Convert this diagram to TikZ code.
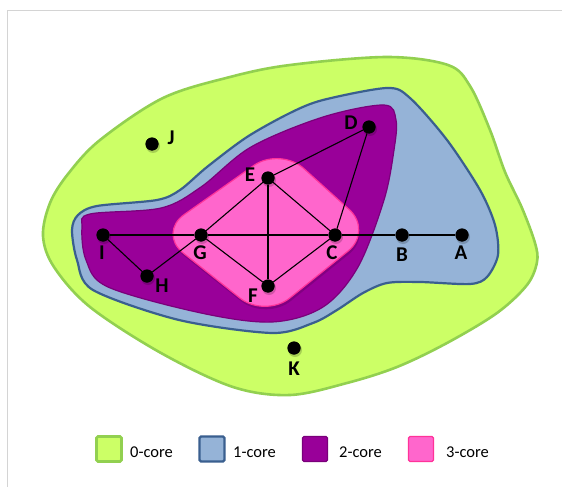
\documentclass[tikz,border=0pt]{standalone}
\usepackage{fontspec}
\setmainfont{Carlito}
\begin{document}
\begin{tikzpicture}[x=1pt,y=-1pt,
  dot/.style={circle,fill=black,minimum size=13pt,inner sep=0pt},
  shad/.style={circle,fill=black,fill opacity=0.18,minimum size=14pt,inner sep=0pt},
  lbl/.style={font=\fontsize{21}{21}\selectfont\bfseries,inner sep=0pt},
  edge/.style={draw=black,line width=1.1pt},
  legtxt/.style={font=\fontsize{16.5}{16.5}\selectfont,anchor=west,inner sep=0pt},
  legbox/.style={minimum size=25pt,inner sep=0pt,rounded corners=1.5pt}]
\definecolor{gfill}{HTML}{CCFF66}
\definecolor{gline}{HTML}{92D050}
\definecolor{bfill}{HTML}{95B3D7}
\definecolor{bline}{HTML}{3A5F8F}
\definecolor{pfill}{HTML}{990099}
\definecolor{pline}{HTML}{7A007A}
\definecolor{kfill}{HTML}{FF66CC}
\definecolor{kline}{HTML}{FF3399}
\definecolor{frame}{HTML}{D4D4D4}
\useasboundingbox (0,0) rectangle (562,487);
\fill[white] (0,0) rectangle (562,487);
\draw[frame,line width=1.6pt] (7.5,487) -- (7.5,10.5) -- (562,10.5);
% 0-core
\draw[gline,fill=gfill,line width=2.6pt] plot[smooth cycle,tension=0.55] coordinates {
 (387,57) (448,65) (470,86) (490,130) (505,172) (522,208) (535,243) (537,262) (527,285)
 (497,313) (447,343) (397,367) (347,383) (290,395) (233,387) (161,353) (90,307) (54,267)
 (43,236) (50,203) (68,174) (100,140) (163,98) (230,77) (290,65)};
% 1-core
\draw[bline,fill=bfill,line width=2.2pt] plot[smooth cycle,tension=0.5] coordinates {
 (387,88) (410,98) (447,140) (480,190) (495,225) (498,255) (487,277) (470,284) (420,282)
 (387,283) (363,293) (337,310) (313,323) (272,333) (179,320) (93,290) (77,260) (72,230)
 (78,215) (97,206) (157,200) (180,190) (207,167) (247,137) (290,113) (323,100)};
% 2-core
\draw[pline,fill=pfill,line width=1.2pt] plot[smooth cycle,tension=0.55] coordinates {
 (82,227) (90,214) (161,208) (201,187) (251,147) (323,117) (384,105) (396,120) (394,150)
 (384,200) (358,267) (323,307) (272,322) (201,313) (108,287) (86,260)};
% 3-core
\fill[black,opacity=0.15,rounded corners=32pt]
 (159,236) -- (281,150) -- (374,234) -- (266,321) -- cycle;
\draw[kline,fill=kfill,line width=1.2pt,rounded corners=32pt]
 (158,233) -- (280,147) -- (373,231) -- (265,318) -- cycle;
% nodes
\node[dot] (J) at (152,144) {};
\node[dot] (D) at (369,127) {};
\node[dot] (E) at (268,178) {};
\node[dot] (I) at (103,235) {};
\node[dot] (G) at (201,235) {};
\node[dot] (C) at (335,235) {};
\node[dot] (B) at (402,235) {};
\node[dot] (A) at (462,235) {};
\node[dot] (H) at (147,276) {};
\node[dot] (F) at (268,286) {};
\node[dot] (K) at (294,348) {};
% edges
\draw[edge] (I) -- (G);
\draw[edge] (G) -- (C);
\draw[edge] (C) -- (B);
\draw[edge] (B) -- (A);
\draw[edge] (I) -- (H);
\draw[edge] (H) -- (G);
\draw[edge] (G) -- (E);
\draw[edge] (G) -- (F);
\draw[edge] (E) -- (F);
\draw[edge] (E) -- (C);
\draw[edge] (F) -- (C);
\draw[edge] (E) -- (D);
\draw[edge] (D) -- (C);
\foreach \n in {J,D,E,I,G,C,B,A,H,F,K} {
  \node[shad] at ([shift={(1pt,-2pt)}]\n) {};
  \node[dot] at (\n) {};}
% labels
\node[lbl] (lJ) at (171,138) {J};
\node[lbl] (lD) at (351,123) {D};
\node[lbl] (lE) at (250,175) {E};
\node[lbl] (lI) at (102,253) {I};
\node[lbl] (lG) at (200,253) {G};
\node[lbl] (lC) at (332,253) {C};
\node[lbl] (lB) at (402,255) {B};
\node[lbl] (lA) at (461,253) {A};
\node[lbl] (lH) at (162,286) {H};
\node[lbl] (lF) at (253,296) {F};
\node[lbl] (lK) at (294,369) {K};
% legend
\node[legbox,draw=gline,fill=gfill,line width=2.6pt] (s0) at (109,449) {};
\node[legtxt] (t0) at (130,452) {0-core};
\node[legbox,draw=bline,fill=bfill,line width=2.4pt] (s1) at (212,449) {};
\node[legtxt] (t1) at (233,452) {1-core};
\node[legbox,draw=pline,fill=pfill,line width=1.2pt] (s2) at (315,449) {};
\node[legtxt] (t2) at (339,452) {2-core};
\node[legbox,draw=kline,fill=kfill,line width=1.2pt] (s3) at (421,449) {};
\node[legtxt] (t3) at (446,452) {3-core};
\end{tikzpicture}
\end{document}
